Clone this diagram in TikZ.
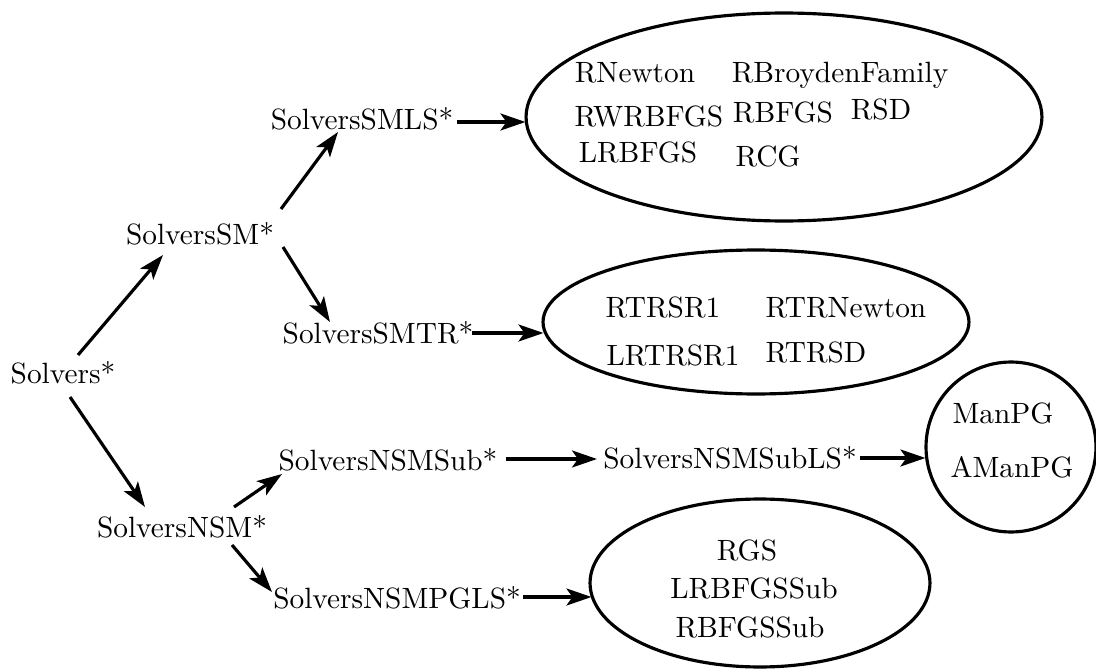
\documentclass[tikz,border=0pt]{standalone}
\usepackage{fontspec}
\setmainfont{lmroman10-regular.otf}
\usetikzlibrary{arrows.meta,shapes.geometric}
\begin{document}
\begin{tikzpicture}[x=0.02cm,y=-0.02cm,
  lbl/.style={inner sep=0pt,anchor=base,font=\fontsize{16.7pt}{20pt}\selectfont},
  group/.style={draw,line width=1.8pt,ellipse,inner sep=0pt},
  arr/.style={line width=1.8pt,-{Stealth[length=0.5cm,width=0.34cm,inset=0.12cm]}}]
\useasboundingbox (0,0) rectangle (1096,669);
% containers
\node[group,minimum width=10.32cm,minimum height=4.16cm] (ell1) at (784,117) {};
\node[group,minimum width=8.52cm,minimum height=2.88cm] (ell2) at (756,322) {};
\node[group,circle,minimum size=3.4cm] (circ) at (1011,447) {};
\node[group,minimum width=6.8cm,minimum height=3.36cm] (ell4) at (760,583) {};
% main labels
\node[lbl] (solvers) at (63,383) {Solvers*};
\node[lbl] (sm) at (200,244) {SolversSM*};
\node[lbl] (smls) at (362,130) {SolversSMLS*};
\node[lbl] (smtr) at (378,343) {SolversSMTR*};
\node[lbl] (nsm) at (182,537) {SolversNSM*};
\node[lbl] (nsmsub) at (388,470) {SolversNSMSub*};
\node[lbl] (nsmsubls) at (730,468) {SolversNSMSubLS*};
\node[lbl] (nsmpgls) at (397,608) {SolversNSMPGLS*};
% contents of ellipse 1
\node[lbl] (rnewton) at (635,83) {RNewton};
\node[lbl] (rbroyden) at (840,83) {RBroydenFamily};
\node[lbl] (rwrbfgs) at (649,127) {RWRBFGS};
\node[lbl] (rbfgs) at (783,123) {RBFGS};
\node[lbl] (rsd) at (881,120) {RSD};
\node[lbl] (lrbfgs) at (638,163) {LRBFGS};
\node[lbl] (rcg) at (768,167) {RCG};
% contents of ellipse 2
\node[lbl] (rtrsr1) at (663,317) {RTRSR1};
\node[lbl] (rtrnewton) at (846,317) {RTRNewton};
\node[lbl] (lrtrsr1) at (673,365) {LRTRSR1};
\node[lbl] (rtrsd) at (816,362) {RTRSD};
% contents of circle
\node[lbl] (manpg) at (1003,423) {ManPG};
\node[lbl] (amanpg) at (1012,477) {AManPG};
% contents of ellipse 4
\node[lbl] (rgs) at (747,560) {RGS};
\node[lbl] (lrbfgssub) at (754,598) {LRBFGSSub};
\node[lbl] (rbfgssub) at (750,637) {RBFGSSub};
% connectors
\draw[arr] ([shift={(15,-28)}]solvers.base) -- ([shift={(-37,11)}]sm.base);
\draw[arr] ([shift={(7,14)}]solvers.base) -- ([shift={(-37,-30)}]nsm.base);
\draw[arr] ([shift={(81,-35)}]sm.base) -- ([shift={(-24,2)}]smls.base);
\draw[arr] ([shift={(83,3)}]sm.base) -- ([shift={(-48,-21)}]smtr.base);
\draw[arr] ([shift={(95,-8)}]smls.base) -- ([shift={(1,5)}]ell1.west);
\draw[arr] ([shift={(94,-10)}]smtr.base) -- ([shift={(2,11)}]ell2.west);
\draw[arr] ([shift={(52,-30)}]nsm.base) -- ([shift={(-106,4)}]nsmsub.base);
\draw[arr] ([shift={(50,8)}]nsm.base) -- ([shift={(-125,-16)}]nsmpgls.base);
\draw[arr] ([shift={(118,-11)}]nsmsub.base) -- ([shift={(-133,-9)}]nsmsubls.base);
\draw[arr] ([shift={(130,-10)}]nsmsubls.base) -- ([shift={(1,11)}]circ.west);
\draw[arr] ([shift={(126,-11)}]nsmpgls.base) -- ([shift={(3,14)}]ell4.west);
\end{tikzpicture}
\end{document}
